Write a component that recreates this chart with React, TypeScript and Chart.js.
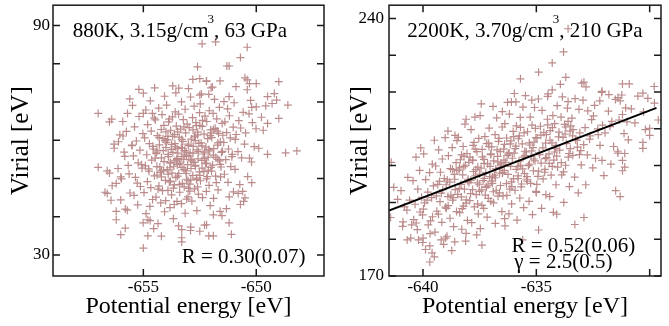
import React, { useEffect, useRef } from 'react';
import { Chart, registerables } from 'chart.js';

Chart.register(...registerables);

// ---------------- data ----------------
// Left panel: 880K, 3.15 g/cm3, 63 GPa — [potential energy eV, virial eV]
const leftOutliers: [number, number][] = [
  [-652.4,85.2],[-651.8,85.7],[-650.4,84.3],[-650.7,81.6],[-652.6,79.2],[-651.3,79.4],[-651.2,79.4],[-650.5,76.3],[-650.4,75.8],[-652.5,76.1],
  [-652.2,75.5],[-651.6,75.5],[-650.3,74.8],[-650.0,74.8],[-649.0,75.3],[-655.2,73.3],[-655.0,72.3],[-654.5,73.7],[-653.7,74.2],[-653.0,73.5],
  [-652.0,73.7],[-650.9,74.0],[-650.4,73.2],[-651.2,71.4],[-655.6,70.8],[-652.5,71.8],[-652.1,72.0],[-649.5,71.4],[-649.2,72.2],[-649.1,70.5],
  [-649.3,69.6],[-648.6,69.2],[-657.0,67.0],[-656.5,64.8],[-656.4,65.5],[-655.7,67.0],[-655.0,67.0],[-654.6,67.0],[-650.0,68.7],[-650.2,68.6],
  [-649.0,65.7],[-649.5,64.4],[-648.2,57.2],[-648.7,56.7],[-649.5,56.3],[-657.0,52.9],[-656.6,52.0],[-656.5,51.4],[-656.3,59.0],[-656.1,59.6],
  [-655.5,58.7],[-655.9,61.1],[-656.7,46.4],[-656.6,46.1],[-656.0,50.4],[-656.2,48.7],[-656.0,44.4],[-656.2,41.4],[-655.8,42.0],[-656.2,39.2],
  [-655.8,37.0],[-656.0,35.3],[-654.8,39.2],[-654.7,39.0],[-654.8,35.0],[-654.2,34.9],[-655.0,31.8],[-653.3,36.6],[-653.3,34.5],[-653.3,33.4],
  [-652.9,37.3],[-652.5,36.2],[-652.2,37.9],[-652.1,35.0],[-651.9,35.0],[-651.1,35.4],[-651.2,38.4],[-651.6,41.4],[-651.9,40.5],[-650.7,43.2],
  [-650.5,44.9],[-650.6,46.6],[-650.2,48.9],[-650.8,46.1],[-651.2,45.2],[-650.3,55.3],
];
const leftCore: [number, number][] = [
  [-656.43,44.3],[-656.12,52.6],[-656.29,57.9],[-656.04,61.4],[-656.38,48.1],
  [-655.71,41.7],[-655.59,46.2],[-655.97,49.9],[-655.67,53.4],[-655.82,55.8],[-655.51,58.6],[-655.75,62.3],[-655.91,64.9],[-655.63,51.2],[-655.85,56.9],
  [-655.01,38.4],[-655.25,43.1],[-655.41,45.6],[-655.13,47.9],[-655.35,50.3],[-655.06,52.7],[-655.23,54.1],[-655.44,55.9],[-655.15,57.4],[-655.31,59.8],
  [-655.02,61.7],[-655.39,63.5],[-655.19,66.2],[-655.27,48.8],[-655.08,53.6],[-655.48,69.1],
  [-654.54,36.9],[-654.88,40.8],[-654.71,42.7],[-654.59,44.5],[-654.97,46.3],[-654.67,47.6],[-654.82,49.2],[-654.51,50.7],[-654.75,51.9],[-654.91,53.3],
  [-654.63,54.8],[-654.85,56.2],[-654.56,57.7],[-654.73,59.1],[-654.94,60.6],[-654.65,62.4],[-654.81,64.1],[-654.52,65.8],[-654.89,67.9],[-654.69,70.3],
  [-654.77,52.5],[-654.58,58.4],
  [-654.35,38.2],[-654.06,41.3],[-654.23,43.6],[-654.44,45.1],[-654.15,46.8],[-654.31,48.0],[-654.02,49.5],[-654.39,50.9],[-654.19,52.1],[-654.27,53.0],
  [-654.08,54.4],[-654.48,55.3],[-654.43,56.5],[-654.12,57.3],[-654.29,58.8],[-654.04,59.9],[-654.38,61.2],[-654.21,62.8],[-654.09,63.9],[-654.47,65.3],
  [-654.17,66.7],[-654.32,68.4],[-654.01,44.2],[-654.25,51.6],[-654.41,56.9],[-654.13,60.4],[-654.35,47.2],[-654.06,71.5],
  [-653.67,39.5],[-653.82,42.4],[-653.51,44.0],[-653.75,45.7],[-653.91,46.9],[-653.63,48.3],[-653.85,49.1],[-653.56,50.2],[-653.73,51.4],[-653.94,52.3],
  [-653.65,53.2],[-653.81,54.0],[-653.52,54.9],[-653.89,55.7],[-653.69,56.8],[-653.77,57.6],[-653.58,58.3],[-653.98,59.4],[-653.93,60.1],[-653.62,61.5],
  [-653.79,62.6],[-653.54,63.7],[-653.88,64.8],[-653.71,66.1],[-653.59,67.4],[-653.97,69.2],[-653.67,47.5],[-653.82,52.8],[-653.51,55.2],[-653.75,58.9],
  [-653.91,61.0],[-653.63,43.2],[-653.85,65.5],[-653.56,72.4],
  [-653.44,37.6],[-653.15,40.9],[-653.31,43.4],[-653.02,45.2],[-653.39,46.4],[-653.19,47.8],[-653.27,48.7],[-653.08,49.8],[-653.48,50.6],[-653.43,51.3],
  [-653.12,52.0],[-653.29,52.9],[-653.04,53.6],[-653.38,54.3],[-653.21,55.0],[-653.09,55.8],[-653.47,56.6],[-653.17,57.3],[-653.32,58.1],[-653.01,59.0],
  [-653.25,59.7],[-653.41,60.8],[-653.13,61.9],[-653.35,62.9],[-653.06,64.2],[-653.23,65.4],[-653.44,66.8],[-653.15,68.1],[-653.31,70.0],[-653.02,49.4],
  [-653.39,53.9],[-653.19,56.2],[-653.27,57.9],[-653.08,44.6],[-653.48,62.2],[-653.43,73.6],
  [-652.91,36.4],[-652.63,41.6],[-652.85,44.1],[-652.56,45.9],[-652.73,47.3],[-652.94,48.5],[-652.65,49.7],[-652.81,50.8],[-652.52,51.7],[-652.89,52.6],
  [-652.69,53.4],[-652.77,54.2],[-652.58,55.1],[-652.98,55.9],[-652.93,56.7],[-652.62,57.5],[-652.79,58.4],[-652.54,59.2],[-652.88,60.3],[-652.71,61.1],
  [-652.59,62.1],[-652.97,63.3],[-652.67,64.6],[-652.82,65.9],[-652.51,67.2],[-652.75,68.9],[-652.91,71.3],[-652.63,50.1],[-652.85,54.6],[-652.56,57.0],
  [-652.73,60.9],[-652.94,46.7],[-652.65,63.8],[-652.81,75.9],
  [-652.29,37.8],[-652.04,42.9],[-652.38,45.0],[-652.21,46.6],[-652.09,48.2],[-652.47,49.4],[-652.17,50.5],[-652.32,51.8],[-652.01,52.9],[-652.25,53.9],
  [-652.41,54.7],[-652.13,55.6],[-652.35,56.4],[-652.06,57.2],[-652.23,58.2],[-652.44,59.3],[-652.15,60.4],[-652.31,61.6],[-652.02,62.7],[-652.39,63.6],
  [-652.19,64.9],[-652.27,66.3],[-652.08,67.7],[-652.48,69.5],[-652.43,72.1],[-652.12,52.2],[-652.29,56.9],[-652.04,61.2],[-652.38,65.2],[-652.21,75.4],
  [-651.52,40.3],[-651.89,44.8],[-651.69,47.0],[-651.77,48.9],[-651.58,50.4],[-651.98,51.9],[-651.93,53.5],[-651.62,54.6],[-651.79,55.5],[-651.54,56.8],
  [-651.88,57.8],[-651.71,58.7],[-651.59,59.6],[-651.97,60.7],[-651.67,61.8],[-651.82,63.1],[-651.51,64.4],[-651.75,65.6],[-651.91,67.0],[-651.63,68.6],
  [-651.85,70.7],[-651.56,53.0],[-651.73,62.4],[-651.94,73.9],
  [-651.32,42.1],[-651.01,46.5],[-651.25,49.0],[-651.41,51.1],[-651.13,53.1],[-651.35,54.9],[-651.06,56.3],[-651.23,57.7],[-651.44,59.4],[-651.15,60.6],
  [-651.31,62.0],[-651.02,63.4],[-651.39,64.8],[-651.19,66.4],[-651.27,68.2],[-651.08,55.7],[-651.48,61.3],[-651.43,70.1],
  [-650.56,44.0],[-650.73,48.4],[-650.94,52.4],[-650.65,55.4],[-650.81,57.0],[-650.52,59.0],[-650.89,61.5],[-650.69,63.2],[-650.77,65.1],[-650.58,67.3],
  [-650.98,69.8],[-650.93,60.2],
  [-650.38,50.5],[-650.21,54.3],[-650.09,58.3],[-650.47,61.9],[-650.17,64.6],[-650.32,66.9],[-650.01,63.0],[-650.25,70.4],
  [-649.89,57.9],[-649.69,62.6],[-649.77,66.0],[-649.58,69.0],
];
const leftCenter: [number, number][] = [
  [-653.6,54.6],[-653.1,56.9],[-652.7,53.2],[-653.9,51.1],[-652.4,58.5],[-653.3,60.2],[-654.2,55.4],[-652.9,49.6],[-651.9,56.1],[-653.5,57.8],
  [-652.6,61.4],[-654.0,58.1],[-653.2,52.4],[-651.7,59.3],[-652.2,54.0],[-653.8,49.3],[-654.4,53.1],[-652.8,62.7],[-653.0,58.6],[-652.5,50.8],
  [-653.7,61.0],[-651.6,53.7],[-654.3,60.7],[-652.1,57.6],[-653.4,48.4],[-652.3,55.2],[-653.6,59.1],[-652.0,61.9],[-654.1,52.0],[-652.9,54.9],
  [-653.2,63.5],[-651.8,50.6],[-653.9,56.3],[-652.6,47.8],[-654.4,57.4],[-652.4,52.7],[-653.1,51.3],[-651.5,57.1],[-653.5,53.6],[-652.7,59.9],
  [-654.0,62.2],[-652.2,49.9],[-653.3,55.7],[-651.9,62.8],[-653.8,54.2],[-652.8,56.6],[-654.2,50.4],[-652.5,63.9],[-653.0,47.4],[-651.7,55.0],
];

// Right panel: 2200K, 3.70 g/cm3, 210 GPa — [potential energy eV, virial eV]
const rightOutliers: [number, number][] = [
  [-633.6,237.2],[-633.8,230.9],[-634.3,227.9],[-634.9,225.4],[-635.7,223.6],[-633.7,224.0],[-633.0,222.4],[-632.9,222.7],[-634.3,220.6],[-635.2,217.8],
  [-634.5,218.8],[-636.1,217.3],[-635.9,217.3],[-633.6,217.4],[-632.1,220.2],[-632.2,217.6],[-631.8,219.3],[-631.4,218.5],[-631.3,217.6],[-631.2,222.2],
  [-630.9,222.2],[-630.3,219.7],[-629.8,221.5],[-636.5,214.7],[-638.1,212.6],[-638.9,209.4],[-639.5,206.9],[-640.1,204.8],[-638.5,206.8],[-631.1,203.3],
  [-630.3,204.7],[-630.0,208.2],[-631.0,211.9],[-631.2,213.9],[-641.4,200.9],[-640.9,183.5],[-640.5,183.9],[-640.3,184.4],[-640.7,179.8],[-640.2,179.8],
  [-640.0,180.3],[-639.7,178.2],[-639.6,176.3],[-639.5,175.2],[-639.7,173.8],[-639.2,179.8],[-639.0,180.3],[-638.6,179.3],[-638.1,181.6],[-637.4,178.4],
  [-636.4,185.6],[-635.6,179.8],[-634.9,182.5],[-634.1,186.8],[-633.3,184.0],[-632.9,185.9],[-631.5,193.2],[-631.3,191.6],[-631.2,201.4],[-631.1,199.6],
  [-631.2,198.6],[-631.4,203.4],[-632.1,201.4],[-630.0,210.1],[-630.3,206.3],
];
const rightCore: [number, number][] = [
  [-641.43,185.9],[-641.12,190.8],[-641.29,194.1],
  [-640.54,180.3],[-640.88,184.7],[-640.71,187.9],[-640.59,190.6],[-640.97,193.2],[-640.67,196.8],[-640.82,188.8],
  [-640.01,179.1],[-640.25,182.6],[-640.41,185.3],[-640.13,187.4],[-640.35,189.5],[-640.06,191.4],[-640.23,193.6],[-640.44,195.9],[-640.15,198.7],[-640.31,202.3],
  [-640.02,186.6],
  [-639.89,177.2],[-639.69,181.5],[-639.77,183.9],[-639.58,186.1],[-639.98,188.2],[-639.93,189.9],[-639.62,191.3],[-639.79,192.8],[-639.54,194.5],[-639.88,196.2],
  [-639.71,198.1],[-639.59,200.4],[-639.97,203.2],[-639.67,185.0],[-639.82,190.6],
  [-639.09,178.6],[-639.47,181.9],[-639.17,184.6],[-639.32,186.8],[-639.01,188.7],[-639.25,190.2],[-639.41,191.8],[-639.13,193.4],[-639.35,194.9],[-639.06,196.5],
  [-639.23,198.2],[-639.44,199.9],[-639.15,201.8],[-639.31,204.3],[-639.02,207.6],[-639.39,187.6],[-639.19,192.5],[-639.27,195.7],
  [-638.73,176.9],[-638.94,180.8],[-638.65,183.4],[-638.81,185.7],[-638.52,187.5],[-638.89,189.1],[-638.69,190.6],[-638.77,192.0],[-638.58,193.5],[-638.98,194.8],
  [-638.93,196.1],[-638.62,197.6],[-638.79,199.2],[-638.54,200.8],[-638.88,202.7],[-638.71,204.9],[-638.59,208.2],[-638.97,188.4],[-638.67,191.3],[-638.82,195.5],
  [-638.51,198.6],
  [-638.12,179.5],[-638.29,182.7],[-638.04,185.1],[-638.38,187.2],[-638.21,189.0],[-638.09,190.7],[-638.47,192.2],[-638.17,193.6],[-638.32,194.9],[-638.01,196.3],
  [-638.25,197.5],[-638.41,198.8],[-638.13,200.1],[-638.35,201.6],[-638.06,203.3],[-638.23,205.2],[-638.44,207.7],[-638.15,211.3],[-638.31,191.5],[-638.02,195.8],
  [-638.39,199.4],[-638.19,202.5],[-638.27,188.3],
  [-637.63,181.2],[-637.85,184.5],[-637.56,186.9],[-637.73,188.8],[-637.94,190.5],[-637.65,192.1],[-637.81,193.5],[-637.52,194.8],[-637.89,196.0],[-637.69,197.2],
  [-637.77,198.4],[-637.58,199.6],[-637.98,200.9],[-637.93,202.3],[-637.62,203.8],[-637.79,205.5],[-637.54,207.4],[-637.88,209.8],[-637.71,213.2],[-637.59,189.6],
  [-637.97,195.4],[-637.67,198.9],[-637.82,201.5],[-637.51,193.0],[-637.75,206.3],
  [-637.47,182.9],[-637.17,186.0],[-637.32,188.4],[-637.01,190.3],[-637.25,192.0],[-637.41,193.4],[-637.13,194.7],[-637.35,195.9],[-637.06,197.0],[-637.23,198.1],
  [-637.44,199.3],[-637.15,200.5],[-637.31,201.7],[-637.02,203.0],[-637.39,204.4],[-637.19,206.0],[-637.27,207.9],[-637.08,210.2],[-637.48,213.6],[-637.43,216.8],
  [-637.12,191.1],[-637.29,196.5],[-637.04,199.8],[-637.38,202.4],[-637.21,194.1],[-637.09,205.2],
  [-636.81,184.3],[-636.52,187.5],[-636.89,189.9],[-636.69,191.7],[-636.77,193.3],[-636.58,194.6],[-636.98,195.8],[-636.93,196.9],[-636.62,198.0],[-636.79,199.1],
  [-636.54,200.2],[-636.88,201.3],[-636.71,202.5],[-636.59,203.8],[-636.97,205.1],[-636.67,206.6],[-636.82,208.4],[-636.51,210.5],[-636.75,213.0],[-636.91,216.1],
  [-636.63,192.6],[-636.85,197.4],[-636.56,200.7],[-636.73,204.3],[-636.94,195.2],[-636.65,207.4],
  [-636.38,183.6],[-636.21,186.9],[-636.09,189.6],[-636.47,191.8],[-636.17,193.6],[-636.32,195.1],[-636.01,196.4],[-636.25,197.6],[-636.41,198.7],[-636.13,199.8],
  [-636.35,200.9],[-636.06,202.0],[-636.23,203.2],[-636.44,204.5],[-636.15,205.9],[-636.31,207.5],[-636.02,209.3],[-636.39,211.4],[-636.19,214.0],[-636.27,217.2],
  [-636.08,194.3],[-636.48,198.2],[-636.43,201.5],[-636.12,206.7],[-636.29,202.8],
  [-635.85,185.2],[-635.56,188.6],[-635.73,191.2],[-635.94,193.3],[-635.65,195.0],[-635.81,196.5],[-635.52,197.8],[-635.89,199.0],[-635.69,200.1],[-635.77,201.2],
  [-635.58,202.3],[-635.98,203.4],[-635.93,204.6],[-635.62,205.9],[-635.79,207.3],[-635.54,208.9],[-635.88,210.8],[-635.71,213.1],[-635.59,215.9],[-635.97,219.6],
  [-635.67,194.2],[-635.82,199.7],[-635.51,203.9],[-635.75,208.1],
  [-635.17,186.7],[-635.32,190.3],[-635.01,193.0],[-635.25,195.2],[-635.41,197.0],[-635.13,198.6],[-635.35,200.0],[-635.06,201.3],[-635.23,202.5],[-635.44,203.7],
  [-635.15,204.9],[-635.31,206.2],[-635.02,207.6],[-635.39,209.2],[-635.19,211.0],[-635.27,213.2],[-635.08,215.8],[-635.48,219.0],[-635.43,196.3],[-635.12,201.8],
  [-635.29,205.6],[-635.04,210.1],
  [-634.77,188.4],[-634.58,192.1],[-634.98,194.9],[-634.93,197.1],[-634.62,199.0],[-634.79,200.7],[-634.54,202.2],[-634.88,203.5],[-634.71,204.8],[-634.59,206.1],
  [-634.97,207.5],[-634.67,209.0],[-634.82,210.7],[-634.51,212.6],[-634.75,215.0],[-634.91,218.1],[-634.63,198.2],[-634.85,203.0],[-634.56,208.4],
  [-634.25,187.3],[-634.41,191.6],[-634.13,194.8],[-634.35,197.4],[-634.06,199.6],[-634.23,201.5],[-634.44,203.2],[-634.15,204.7],[-634.31,206.2],[-634.02,207.8],
  [-634.39,209.5],[-634.19,211.4],[-634.27,213.6],[-634.08,216.3],[-634.48,219.5],[-634.43,200.6],[-634.12,205.5],[-634.29,210.3],
  [-633.79,190.0],[-633.54,194.3],[-633.88,197.5],[-633.71,200.1],[-633.59,202.3],[-633.97,204.2],[-633.67,206.0],[-633.82,207.7],[-633.51,209.4],[-633.75,211.2],
  [-633.91,213.2],[-633.63,215.6],[-633.85,218.7],[-633.56,203.3],[-633.73,208.6],[-633.94,222.1],
  [-633.15,192.6],[-633.31,196.9],[-633.02,200.2],[-633.39,202.8],[-633.19,205.0],[-633.27,207.0],[-633.08,208.9],[-633.48,210.8],[-633.43,212.9],[-633.12,215.3],
  [-633.29,218.2],[-633.04,204.1],[-633.38,209.8],
  [-632.82,194.8],[-632.51,199.4],[-632.75,202.9],[-632.91,205.7],[-632.63,208.1],[-632.85,210.3],[-632.56,212.5],[-632.73,214.9],[-632.94,217.8],[-632.65,207.2],
  [-632.81,221.4],
  [-632.02,197.3],[-632.39,202.0],[-632.19,205.5],[-632.27,208.4],[-632.08,211.0],[-632.48,213.5],[-632.43,216.4],[-632.12,219.9],[-632.29,210.0],
  [-631.71,200.4],[-631.59,205.2],[-631.97,208.9],[-631.67,212.0],[-631.82,214.8],[-631.51,218.0],[-631.75,210.6],
  [-631.41,203.9],[-631.13,208.7],[-631.35,212.4],[-631.06,215.7],[-631.23,219.2],
  [-630.94,207.0],[-630.65,211.6],[-630.81,215.4],[-630.52,218.9],
  [-630.19,209.8],[-630.27,214.6],[-630.08,218.3],
  [-629.62,212.4],[-629.79,217.0],
];
const rightCenter: [number, number][] = [
  [-638.6,196.3],[-637.9,192.4],[-637.3,200.6],[-636.8,196.7],[-636.2,203.5],[-635.6,199.1],[-635.1,206.4],[-634.6,201.9],[-634.0,209.1],[-633.5,204.6],
  [-638.2,199.7],[-637.6,195.3],[-637.0,203.2],[-636.5,197.9],[-635.9,205.3],[-635.3,200.4],[-634.8,208.3],[-634.2,203.7],[-633.7,210.5],[-633.2,206.9],
  [-638.9,191.6],[-638.4,193.8],[-637.8,201.4],[-637.2,194.2],[-636.7,201.0],[-636.1,195.6],[-635.5,202.7],[-634.9,198.5],[-634.4,206.9],[-633.9,200.8],
  [-638.1,189.8],[-637.5,197.7],[-636.9,192.9],[-636.4,205.8],[-635.8,197.2],[-635.2,204.0],[-634.7,196.4],[-634.1,202.6],[-633.6,212.0],[-633.1,203.0],
  [-638.7,199.0],[-637.4,189.2],[-636.6,199.5],[-636.0,207.9],[-635.4,195.8],[-634.5,211.1],[-633.8,198.3],[-637.1,206.1],[-635.7,210.4],[-636.3,191.9],
  [-634.3,199.8],[-637.7,204.5],[-635.0,192.7],[-633.4,208.1],[-638.3,202.9],
];

// Linear fit drawn in the right panel
const fitEnergy = [-641.5, -629.7];
const fitVirial = [187.8, 215.7];

// Axes
const leftXRange = [-659, -647];
const leftYRange = [24.5, 95.3];
const leftXTicks = [-655, -650];
const leftXLabels = [-655, -650];
const leftYTicks = [30, 40, 50, 60, 70, 80, 90];
const leftYLabels = [30, 90];

const rightXRange = [-641.5, -629.5];
const rightYRange = [170, 243.6];
const rightXTicks = [-640, -635, -630];
const rightXLabels = [-640, -635];
const rightYTicks = [170, 180, 190, 200, 210, 220, 230, 240];
const rightYLabels = [170, 240];

// Texts
const xTitle = 'Potential energy [eV]';
const yTitle = 'Virial [eV]';
const leftHeader = ['880K, 3.15g/cm', '3', ', 63 GPa'];
const rightHeader = ['2200K, 3.70g/cm', '3', ', 210 GPa'];
const leftStats = ['R = 0.30(0.07)'];
const rightStats = ['R = 0.52(0.06)', 'γ = 2.5(0.5)'];

// ---------------- rendering ----------------
const FONT = "'Liberation Serif', 'Times New Roman', serif";
const MARK = 'rgb(188,140,140)';
const H = 326;

type PanelProps = {
  left: number;
  width: number;
  points: [number, number][];
  fit: boolean;
  xRange: number[];
  yRange: number[];
  xTicks: number[];
  xLabels: number[];
  yTicks: number[];
  yLabels: number[];
  axisWidth: number;
  padRight: number;
  yLabelPad: number;
  yTitlePad: number;
  header: string[];
  headerX: number;
  stats: string[];
  statsPos: number[][];
};

function Panel(p: PanelProps) {
  const ref = useRef<HTMLCanvasElement>(null);
  useEffect(() => {
    const canvas = ref.current;
    if (!canvas) return;

    const framePlugin = {
      id: 'frame',
      afterDraw(chart: any) {
        const { ctx, chartArea } = chart;
        const { left, top, right, bottom } = chartArea;
        const xs = chart.scales.x;
        const ys = chart.scales.y;
        ctx.save();
        ctx.strokeStyle = '#1a1a1a';
        ctx.lineWidth = 1.5;
        ctx.strokeRect(left, top, right - left, bottom - top);
        const tl = 7;
        ctx.beginPath();
        p.xTicks.forEach((v) => {
          const px = xs.getPixelForValue(v);
          ctx.moveTo(px, bottom);
          ctx.lineTo(px, bottom - tl);
          ctx.moveTo(px, top);
          ctx.lineTo(px, top + tl);
        });
        p.yTicks.forEach((v) => {
          const py = ys.getPixelForValue(v);
          ctx.moveTo(left, py);
          ctx.lineTo(left + tl, py);
          ctx.moveTo(right, py);
          ctx.lineTo(right - tl, py);
        });
        ctx.stroke();

        // header text with superscript
        ctx.fillStyle = '#000';
        ctx.textAlign = 'left';
        ctx.textBaseline = 'alphabetic';
        const big = `21px ${FONT}`;
        const small = `13px ${FONT}`;
        let x = p.headerX;
        const base = 37.3;
        ctx.font = big;
        ctx.fillText(p.header[0], x, base);
        x += ctx.measureText(p.header[0]).width - 1;
        ctx.font = small;
        ctx.fillText(p.header[1], x, base - 14);
        x += ctx.measureText(p.header[1]).width;
        ctx.font = big;
        ctx.fillText(p.header[2], x, base);

        p.stats.forEach((s, i) => {
          ctx.fillText(s, p.statsPos[i][0], p.statsPos[i][1]);
        });
        ctx.restore();
      },
    };

    const datasets: any[] = [];
    if (p.fit) {
      datasets.push({
        type: 'line',
        data: fitEnergy.map((x, i) => ({ x, y: fitVirial[i] })),
        borderColor: '#000',
        borderWidth: 2,
        pointRadius: 0,
        showLine: true,
        fill: false,
      });
    }
    datasets.push({
      type: 'scatter',
      data: p.points.map(([x, y]) => ({ x, y })),
      pointStyle: 'cross',
      pointRadius: 4,
      pointHoverRadius: 4,
      borderColor: MARK,
      backgroundColor: MARK,
      borderWidth: 1.2,
      showLine: false,
    });

    const chart = new Chart(canvas, {
      type: 'scatter',
      data: { datasets },
      options: {
        responsive: false,
        animation: false,
        devicePixelRatio: 1,
        layout: { padding: { left: 0, top: 5, right: p.padRight, bottom: 0 } },
        plugins: { legend: { display: false }, tooltip: { enabled: false } },
        scales: {
          x: {
            type: 'linear',
            position: 'bottom',
            min: p.xRange[0],
            max: p.xRange[1],
            grid: { display: false, drawTicks: false },
            border: { display: false },
            ticks: {
              autoSkip: false,
              maxRotation: 0,
              padding: 1,
              color: '#000',
              font: { family: FONT, size: 17 },
              callback: (v: any) => (p.xLabels.includes(Number(v)) ? String(v) : ''),
            },
            afterBuildTicks: (s: any) => {
              s.ticks = p.xTicks.map((v) => ({ value: v }));
            },
            afterFit: (s: any) => {
              s.height = 50;
              s.paddingLeft = 0;
              s.paddingRight = 0;
              s.paddingTop = 0;
              s.paddingBottom = 0;
            },
            title: {
              display: true,
              text: xTitle,
              color: '#000',
              font: { family: FONT, size: 24 },
              padding: { top: 0, bottom: 5 },
            },
          },
          y: {
            type: 'linear',
            position: 'left',
            min: p.yRange[0],
            max: p.yRange[1],
            grid: { display: false, drawTicks: false },
            border: { display: false },
            ticks: {
              autoSkip: false,
              padding: p.yLabelPad,
              color: '#000',
              font: { family: FONT, size: 17 },
              callback: (v: any) => (p.yLabels.includes(Number(v)) ? String(v) : ''),
            },
            afterBuildTicks: (s: any) => {
              s.ticks = p.yTicks.map((v) => ({ value: v }));
            },
            afterFit: (s: any) => {
              s.width = p.axisWidth;
              s.paddingLeft = 0;
              s.paddingRight = 0;
              s.paddingTop = 0;
              s.paddingBottom = 0;
            },
            title: {
              display: true,
              text: yTitle,
              color: '#000',
              font: { family: FONT, size: 25 },
              padding: { top: p.yTitlePad, bottom: 0 },
            },
          },
        },
      } as any,
      plugins: [framePlugin],
    });
    return () => chart.destroy();
  }, []);

  return (
    <canvas
      ref={ref}
      width={p.width}
      height={H}
      style={{ position: 'absolute', left: p.left, top: 0, width: p.width, height: H }}
    />
  );
}

export default function App() {
  return (
    <div style={{ position: 'absolute', left: 0, top: 0, width: 669, height: H, background: '#fff' }}>
      <Panel
        left={0}
        width={335}
        points={[...leftOutliers, ...leftCore, ...leftCenter]}
        fit={false}
        xRange={leftXRange}
        yRange={leftYRange}
        xTicks={leftXTicks}
        xLabels={leftXLabels}
        yTicks={leftYTicks}
        yLabels={leftYLabels}
        axisWidth={53}
        padRight={11}
        yLabelPad={3}
        yTitlePad={6}
        header={leftHeader}
        headerX={72.7}
        stats={leftStats}
        statsPos={[[181.7, 262.5]]}
      />
      <Panel
        left={335}
        width={334}
        points={[...rightOutliers, ...rightCore, ...rightCenter]}
        fit={true}
        xRange={rightXRange}
        yRange={rightYRange}
        xTicks={rightXTicks}
        xLabels={rightXLabels}
        yTicks={rightYTicks}
        yLabels={rightYLabels}
        axisWidth={54}
        padRight={8}
        yLabelPad={5}
        yTitlePad={10}
        header={rightHeader}
        headerX={72.3}
        stats={rightStats}
        statsPos={[[176.5, 252], [179.3, 268]]}
      />
    </div>
  );
}
